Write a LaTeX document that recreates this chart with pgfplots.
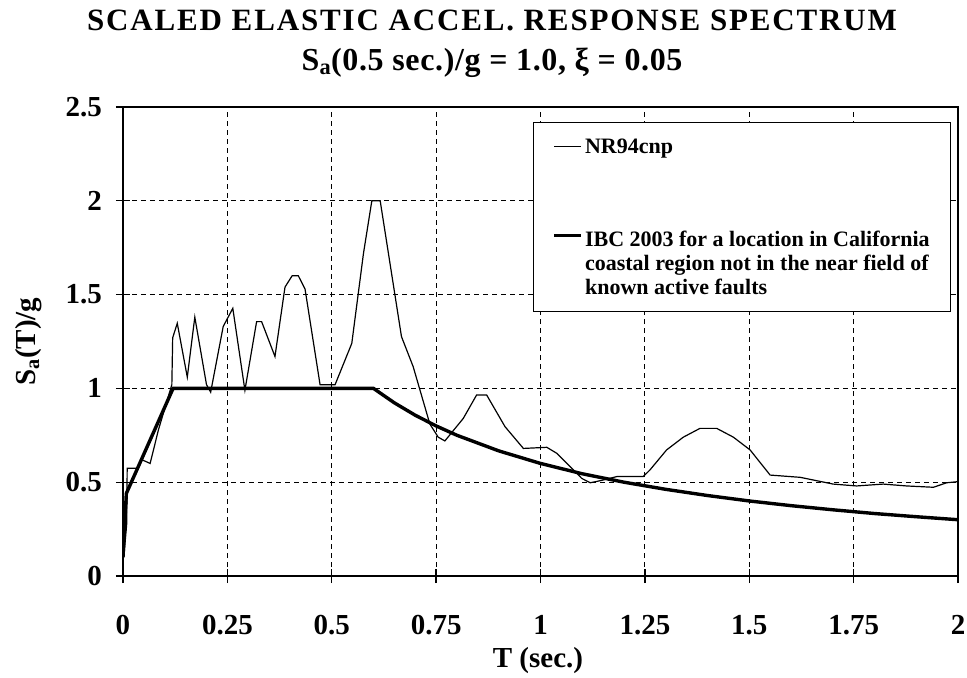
\documentclass[border=0pt]{standalone}
\usepackage{fontspec}
\setmainfont{Liberation Serif}
\usepackage{pgfplots}
\pgfplotsset{compat=1.18}
\pgfplotsset{
  plainleg/.style={legend image code/.code={\draw[##1] (0pt,0pt) -- (27pt,0pt);}},
  upleg/.style={legend image code/.code={\draw[##1] (0pt,28pt) -- (27pt,28pt);}},
}

\begin{document}
\begin{tikzpicture}
\begin{axis}[
  name=ax,
  width=835pt, height=469pt, scale only axis,
  xmin=0, xmax=2, ymin=0, ymax=2.5,
  xtick={0,0.25,0.5,0.75,1,1.25,1.5,1.75,2},
  ytick={0,0.5,1,1.5,2,2.5},
  xtick pos=bottom, ytick pos=left,
  tick align=center, major tick length=14pt,
  axis line style={line width=1.4pt},
  tick style={line width=1.3pt, black},
  grid=major, major grid style={black, line width=1.2pt, dash pattern=on 5pt off 4pt},
  /pgf/number format/assume math mode=true,
  tick label style={font=\fontsize{29}{30}\selectfont\bfseries},
  xticklabel style={anchor=north, inner sep=0pt, yshift=-32pt},
  yticklabel style={anchor=east, inner sep=0pt, xshift=-14pt},
  xlabel={T (sec.)}, ylabel={S\textsubscript{a}(T)/g},
  label style={font=\fontsize{29}{30}\selectfont\bfseries},
  xlabel style={at={(axis description cs:0.497,-0.181)}, anchor=center},
  ylabel style={at={(axis description cs:-0.113,0.5)}, anchor=center},
  title={{\addfontfeature{LetterSpace=6}SCALED ELASTIC ACCEL. RESPONSE SPECTRUM}\\
    {\fontsize{32}{40}\selectfont\addfontfeature{LetterSpace=2}S\textsubscript{a}(0.5 sec.)/g = 1.0, ξ = 0.05}},
  title style={font=\fontsize{31}{40}\selectfont\bfseries, align=center,
    at={(axis description cs:0.442,1)}, anchor=north, inner sep=0pt, yshift=91pt},
  legend style={at={(axis description cs:0.491,0.968)}, anchor=north west,
    draw=black, line width=1.3pt, inner xsep=19pt, inner ysep=14pt, row sep=72pt,
    font=\fontsize{22}{24}\selectfont\bfseries,
    cells={anchor=west, align=left, inner xsep=3pt}},
]
\addplot[black, line width=1.2pt, plainleg] coordinates {
(0.002,0.10)(0.009,0.28)(0.010,0.574)(0.033,0.574)(0.045,0.62)(0.065,0.60)
(0.085,0.78)(0.105,0.93)(0.117,1.02)(0.119,1.27)(0.130,1.347)(0.154,1.06)
(0.172,1.38)(0.200,1.02)(0.210,0.98)(0.240,1.33)(0.263,1.427)(0.292,0.99)
(0.320,1.356)(0.332,1.356)(0.364,1.17)(0.388,1.54)(0.405,1.60)(0.420,1.60)
(0.436,1.53)(0.472,1.02)(0.508,1.02)(0.548,1.24)(0.576,1.72)(0.596,2.0)
(0.616,2.0)(0.667,1.276)(0.695,1.116)(0.735,0.81)(0.755,0.74)(0.771,0.72)
(0.815,0.84)(0.847,0.965)(0.871,0.965)(0.915,0.796)(0.959,0.68)(1.015,0.686)
(1.039,0.654)(1.071,0.583)(1.099,0.52)(1.119,0.497)(1.143,0.508)(1.183,0.53)
(1.246,0.53)(1.262,0.565)(1.302,0.672)(1.342,0.74)(1.382,0.787)(1.422,0.787)
(1.462,0.74)(1.502,0.672)(1.550,0.538)(1.622,0.526)(1.701,0.49)(1.757,0.48)
(1.821,0.49)(1.877,0.48)(1.941,0.473)(1.973,0.497)(2.0,0.503)
};
\addlegendentry{NR94cnp}
\addplot[black, line width=3.4pt, upleg] coordinates {
(0.0,0.10)(0.008,0.44)(0.12,1.0)(0.6,1.0)(0.65,0.923)(0.7,0.857)(0.75,0.8)
(0.8,0.75)(0.9,0.667)(1.0,0.6)(1.1,0.545)(1.2,0.5)(1.3,0.462)(1.4,0.429)
(1.5,0.4)(1.6,0.375)(1.7,0.353)(1.8,0.333)(1.9,0.316)(2.0,0.3)
};
\addlegendentry{IBC 2003 for a location in California\\coastal region not in the near field of\\known active faults}
\end{axis}
\pgfresetboundingbox
\path ([xshift=-123pt,yshift=-101pt]ax.south west) rectangle ([xshift=9pt,yshift=107pt]ax.north east);
\end{tikzpicture}
\end{document}
